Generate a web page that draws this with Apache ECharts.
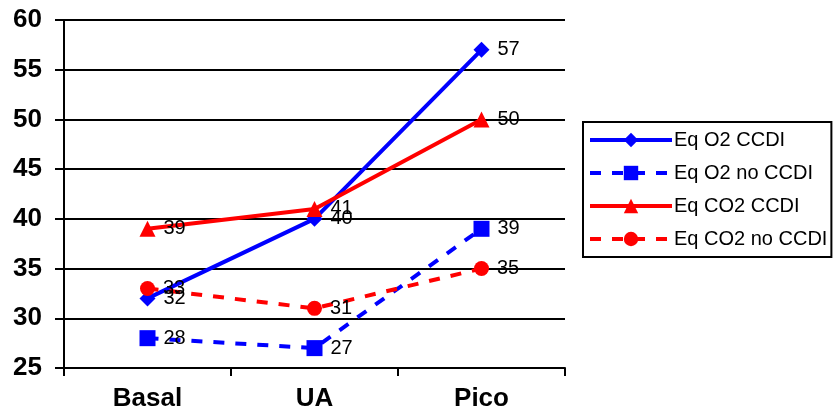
<!DOCTYPE html>
<html>
<head>
<meta charset="utf-8">
<script src="https://cdn.jsdelivr.net/npm/echarts@6/dist/echarts.min.js"></script>
<style>
  html, body { margin: 0; padding: 0; background: #fff; }
  #chart { width: 839px; height: 414px; }
</style>
</head>
<body>
<div id="chart"></div>
<script>
const categories = ['Basal', 'UA', 'Pico'];
const eqO2Ccdi = [32, 40, 57];
const eqO2NoCcdi = [28, 27, 39];
const eqCo2Ccdi = [39, 41, 50];
const eqCo2NoCcdi = [33, 31, 35];

const FONT = 'Arial, "Liberation Sans", sans-serif';

function line(name, data, color, symbol, size, dashed) {
    return {
        name, type: 'line', data,
        symbol, symbolSize: size,
        itemStyle: { color },
        lineStyle: { color, width: 4, type: dashed ? [11, 11] : 'solid' },
        label: {
            show: true, position: 'right', distance: 8,
            color: '#000', fontFamily: FONT, fontSize: 20,
        },
        animation: false,
    };
}

const chart = echarts.init(document.getElementById('chart'), null, { renderer: 'canvas' });
chart.setOption({
    animation: false,
    grid: { left: 64, right: 274, top: 20, bottom: 46 },
    xAxis: {
        type: 'category', data: categories, boundaryGap: true,
        axisLine: { lineStyle: { color: '#000', width: 2 } },
        axisTick: { show: true, length: 8, lineStyle: { color: '#000', width: 2 } },
        axisLabel: { color: '#000', fontFamily: FONT, fontSize: 26, fontWeight: 'bold', margin: 18 },
    },
    yAxis: {
        type: 'value', min: 25, max: 60, interval: 5,
        axisLine: { show: true, lineStyle: { color: '#000', width: 2 } },
        axisTick: { show: true, length: 9, lineStyle: { color: '#000', width: 2 } },
        axisLabel: { color: '#000', fontFamily: FONT, fontSize: 26, fontWeight: 'bold', margin: 22 },
        splitLine: { lineStyle: { color: '#000', width: 2 } },
    },
    legend: {
        orient: 'vertical', left: 583, top: 122,
        itemWidth: 82, itemHeight: 18, itemGap: 13,
        borderColor: '#000', borderWidth: 2,
        padding: [8, 4, 8, 5],
        lineStyle: { width: 4 },
        textStyle: { color: '#000', fontFamily: FONT, fontSize: 20, lineHeight: 18, padding: [0, 0, 0, -3] },
        data: ['Eq O2 CCDI', 'Eq O2 no CCDI', 'Eq CO2 CCDI', 'Eq CO2 no CCDI'],
    },
    series: [
        line('Eq O2 CCDI', eqO2Ccdi, '#0000ff', 'diamond', 16, false),
        line('Eq O2 no CCDI', eqO2NoCcdi, '#0000ff', 'rect', 16, true),
        line('Eq CO2 CCDI', eqCo2Ccdi, '#ff0000', 'triangle', 16, false),
        line('Eq CO2 no CCDI', eqCo2NoCcdi, '#ff0000', 'circle', 15, true),
    ],
});
</script>
</body>
</html>
